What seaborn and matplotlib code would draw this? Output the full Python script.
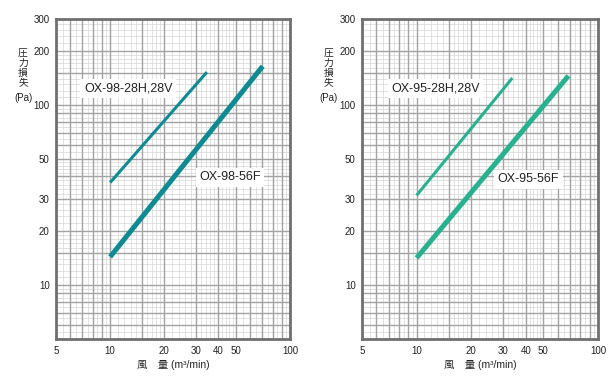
import numpy as np
import pandas as pd
import matplotlib
matplotlib.use("Agg")
import matplotlib.pyplot as plt
import seaborn as sns

# ---- data ----
flow_98_28 = [10, 34.5]
loss_98_28 = [37, 152]
flow_98_56 = [10, 70.5]
loss_98_56 = [14.3, 164]
flow_95_28 = [10, 33.7]
loss_95_28 = [31.4, 141]
flow_95_56 = [10, 68.7]
loss_95_56 = [14.1, 145]

xticks = [5, 10, 20, 30, 40, 50, 100]
yticks = [10, 20, 30, 50, 100, 200, 300]
labels_left = ["OX-98-28H,28V", "OX-98-56F"]
labels_right = ["OX-95-28H,28V", "OX-95-56F"]
ylabel_chars = ["圧", "力", "損", "失"]
ylabel_unit = "(Pa)"
xlabel_text = "風　量 (m³/min)"

sns.set_style("white")
plt.rcParams['font.family'] = ['Liberation Sans', 'Noto Sans CJK JP', 'DejaVu Sans']

fig = plt.figure(figsize=(6.14, 3.79), dpi=100)
ax1 = fig.add_axes([56/614, 1-339/379, 234/614, 320/379])
ax2 = fig.add_axes([362/614, 1-339/379, 236/614, 320/379])

def grid_positions(lo, hi):
    major, minor = [], []
    dec = 1.0
    while dec <= hi:
        for m in range(1, 10):
            v = m * dec
            if lo <= v <= hi:
                major.append(v)
        if lo <= 1.5 * dec <= hi:
            major.append(1.5 * dec)
        steps = [(1, 2, 0.1), (2, 5, 0.2), (5, 10, 0.5)]
        for a, b, s in steps:
            for v in np.arange(a, b, s):
                vv = round(v * dec, 6)
                if lo <= vv <= hi:
                    minor.append(vv)
        dec *= 10
    return major, minor

def style_ax(ax, color, d28x, d28y, d56x, d56y, labs, lab_pos):
    ax.set_xscale("log")
    ax.set_yscale("log")
    ax.set_xlim(5, 100)
    ax.set_ylim(5, 300)
    xm, xn = grid_positions(5, 100)
    ym, yn = grid_positions(5, 300)
    for v in xn:
        ax.axvline(v, color="#d6d6d6", lw=0.5, zorder=0)
    for v in yn:
        ax.axhline(v, color="#d6d6d6", lw=0.5, zorder=0)
    for v in xm:
        ax.axvline(v, color="#a3a3a3", lw=1.0, zorder=0.5)
    for v in ym:
        ax.axhline(v, color="#a3a3a3", lw=1.0, zorder=0.5)
    df1 = pd.DataFrame({"x": d28x, "y": d28y})
    df2 = pd.DataFrame({"x": d56x, "y": d56y})
    sns.lineplot(data=df1, x="x", y="y", ax=ax, color=color, lw=2.2,
                 solid_capstyle="butt", zorder=3)
    sns.lineplot(data=df2, x="x", y="y", ax=ax, color=color, lw=3.6,
                 solid_capstyle="butt", zorder=3)
    for t, (px, py) in zip(labs, lab_pos):
        ax.text(px, py, t, ha="center", va="center", fontsize=9, color="#222222",
                zorder=4, bbox=dict(facecolor="white", edgecolor="none", pad=2.5))
    ax.set_xticks(xticks)
    ax.set_xticklabels([str(v) for v in xticks])
    ax.set_yticks(yticks)
    ax.set_yticklabels([str(v) for v in yticks])
    ax.minorticks_off()
    ax.tick_params(axis="both", length=0, labelsize=7, colors="#222222")
    ax.tick_params(axis="x", pad=5)
    ax.tick_params(axis="y", pad=4.5)
    for s in ax.spines.values():
        s.set_color("#707070")
        s.set_linewidth(2.0)
    ax.set_xlabel(xlabel_text, fontsize=7.5, color="#222222", labelpad=3)
    ax.set_ylabel("")
    ax.text(-0.141, 0.848, "\n".join(ylabel_chars), transform=ax.transAxes,
            ha="center", va="center", fontsize=7, linespacing=1.0, color="#222222",
            family=["Noto Sans CJK JP", "DejaVu Sans"])
    ax.text(-0.141, 0.753, ylabel_unit, transform=ax.transAxes, ha="center", va="center",
            fontsize=7, color="#222222")

style_ax(ax1, "#0e8a92", flow_98_28, loss_98_28, flow_98_56, loss_98_56,
         labels_left, [(12.6, 124), (46.3, 39.5)])
style_ax(ax2, "#28b18e", flow_95_28, loss_95_28, flow_95_56, loss_95_56,
         labels_right, [(12.7, 124), (41.3, 38.5)])

fig.savefig("out.png", dpi=100)
